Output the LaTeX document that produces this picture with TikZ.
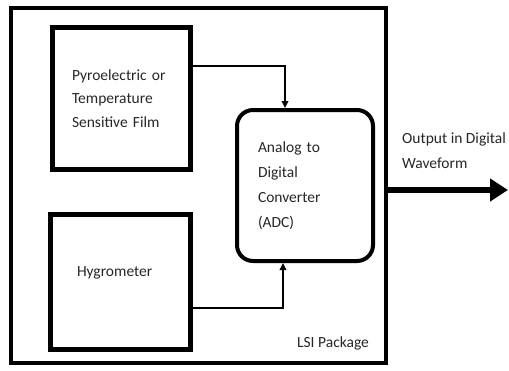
\documentclass[tikz,border=0pt]{standalone}
\usepackage{fontspec}
\setmainfont{Carlito}
\usetikzlibrary{arrows.meta}
\begin{document}
\begin{tikzpicture}[x=1pt,y=-1pt,
  txt/.style={font=\fontsize{15.5}{23.5}\selectfont,text=black!85},
  blk/.style={draw,line width=5pt,align=left,inner ysep=0pt,txt},
  conn/.style={line width=1.8pt,-{Triangle[length=7pt,width=6.5pt]}}
]
\useasboundingbox (0,0) rectangle (509,370);
\node[draw,line width=3.5pt,minimum width=375pt,minimum height=355pt] (lsi) at (198.5,185.5) {};
\node[blk,minimum width=138pt,minimum height=142pt,inner xsep=19.5pt,text width=99pt] (top) at (121.5,98.5)
  {Pyroelectric or\\Temperature\\Sensitive Film};
\node[blk,minimum width=140pt,minimum height=135pt,inner xsep=26.5pt,text width=87pt,text depth=21pt] (hyg) at (120.5,282)
  {Hygrometer};
\node[blk,line width=4pt,rounded corners=16pt,minimum width=136pt,minimum height=151pt,inner xsep=21pt,text width=94pt,font=\fontsize{15.5}{25}\selectfont] (adc) at (305,185.5)
  {Analog to\\Digital\\Converter\\(ADC)};
\node[txt,anchor=center] (pkg) at (333,343) {LSI Package};
\node[txt,font=\fontsize{15.5}{25}\selectfont,align=left,anchor=west,inner sep=0pt] (outtxt) at (402,150.5) {Output in Digital\\Waveform};
\coordinate (outend) at (508,190);
\draw[conn] ([yshift=32.5pt]top.east) -| ([xshift=-20pt]adc.north);
\draw[conn] ([yshift=-26pt]hyg.east) -| ([xshift=-22pt]adc.south);
\draw[line width=6pt,-{Triangle[length=18pt,width=22pt]}] (lsi.east |- outend) -- (outend);
\end{tikzpicture}
\end{document}
